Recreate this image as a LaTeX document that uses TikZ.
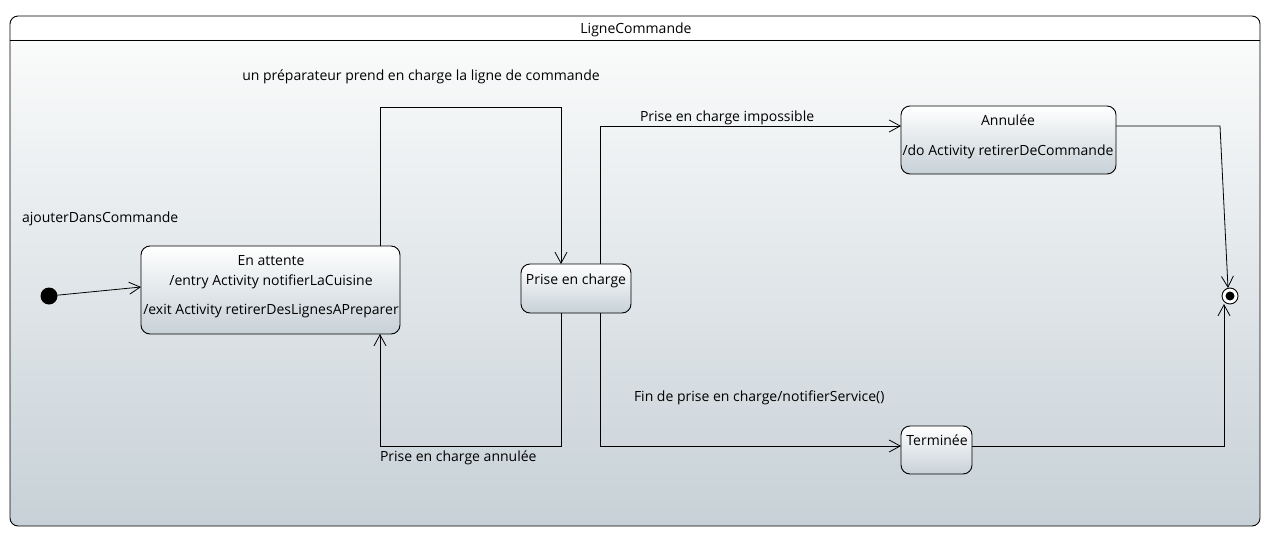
\documentclass[tikz,border=0pt]{standalone}
\usepackage{fontspec}
\setmainfont{Open Sans}
\usetikzlibrary{arrows.meta,calc}
\definecolor{shadebot}{RGB}{199,209,215}
\definecolor{shadetop}{RGB}{250,251,251}
\begin{document}
\begin{tikzpicture}[x=1pt,y=-1pt,
  every node/.style={font=\fontsize{14}{16}\selectfont, inner sep=0pt, outer sep=0pt},
  statebox/.style={draw, line width=0.9pt, rounded corners=9pt, top color=white, bottom color=shadebot, minimum width=#1},
  tr/.style={draw, line width=0.8pt, -{Straight Barb[length=11pt,width=12pt,line width=0.8pt]}},
  lbl/.style={anchor=west},
]
\useasboundingbox (0,0) rectangle (1269,535);
% outer frame
\begin{scope}
  \clip[rounded corners=8pt] (10,16) rectangle (1260,526);
  \fill[white] (10,16) rectangle (1260,40);
  \shade[top color=shadetop, bottom color=shadebot] (10,40) rectangle (1260,526);
\end{scope}
\draw[line width=0.9pt, rounded corners=8pt] (10,16) rectangle (1260,526);
\draw[line width=0.9pt] (10,40) -- (1260,40);
\node (title) at (636,29.5) {LigneCommande};

% states
\node[statebox=259pt, minimum height=88pt] (attente) at (270.5,290) {};
\node (att1) at (271,260.5) {En attente};
\node (att2) at (271,281.5) {/entry Activity notifierLaCuisine};
\node (att3) at (271,311.5) {/exit Activity retirerDesLignesAPreparer};

\node[statebox=110pt, minimum height=49pt] (pec) at (576,288.5) {};
\node (pect) at (576,280.5) {Prise en charge};

\node[statebox=215pt, minimum height=68pt] (annulee) at (1008.5,140) {};
\node (ann1) at (1008,120.5) {Annulée};
\node (ann2) at (1008,151.5) {/do Activity retirerDeCommande};

\node[statebox=71pt, minimum height=48pt] (terminee) at (936.5,450) {};
\node (term) at (937,440.5) {Terminée};

% pseudostates
\node[circle, fill=black, minimum size=17pt] (init) at (49,296) {};
\node[circle, draw, fill=white, line width=0.9pt, minimum size=16pt] (final) at (1230,296) {};
\fill[black] (final.center) circle (4.5pt);

% coordinates
\coordinate (i1) at (141,287);
\coordinate (b1) at (380,107);
\coordinate (b2) at (561,107);
\coordinate (c1) at (561,446);
\coordinate (c2) at (380,446);
\coordinate (d1) at (600,126);
\coordinate (e1) at (600,446);
\coordinate (f1) at (1220,126);
\coordinate (f2) at (1228,288);
\coordinate (g1) at (1224,446);
\coordinate (g2) at (1224,304);

% transitions
\draw[tr] (init) -- (i1);
\draw[tr] (attente.north -| b1) -- (b1) -- (b2) -- (pec.north -| b2);
\draw[tr] (pec.south -| c1) -- (c1) -- (c2) -- (attente.south -| c2);
\draw[tr] (pec.north -| d1) -- (d1) -- (annulee.west |- d1);
\draw[tr] (pec.south -| e1) -- (e1) -- (terminee.west |- e1);
\draw[tr] (annulee.east |- f1) -- (f1) -- (f2);
\draw[tr] (terminee.east |- g1) -- (g1) -- (g2);

% labels
\node (l0) at (421,76.5) {un préparateur prend en charge la ligne de commande};
\node[lbl] (l1) at (22,218.5) {ajouterDansCommande};
\node[lbl] (l2) at (640,117.5) {Prise en charge impossible};
\node[lbl] (l3) at (634,397.5) {Fin de prise en charge/notifierService()};
\node[lbl] (l4) at (380,457.5) {Prise en charge annulée};
\end{tikzpicture}
\end{document}
